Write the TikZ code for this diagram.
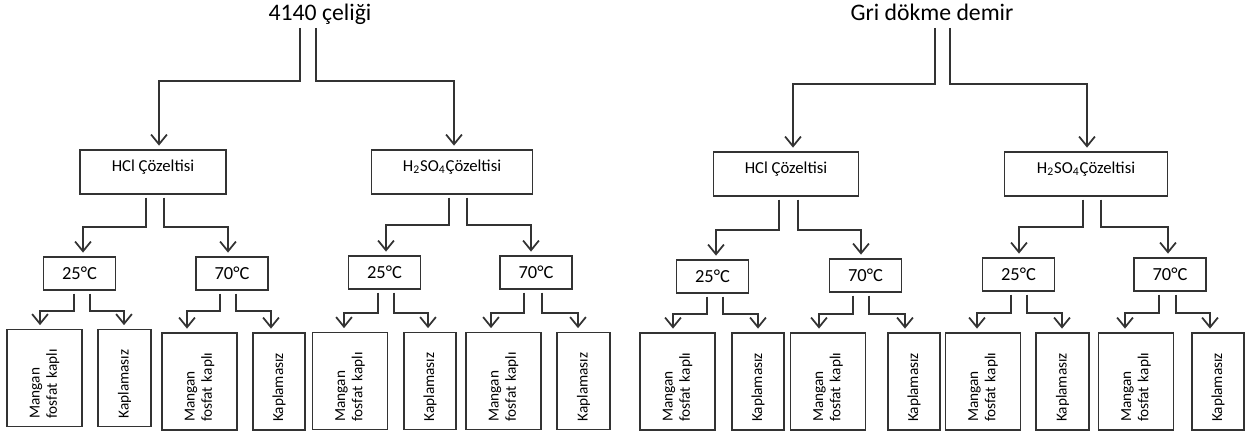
\documentclass[tikz,border=0pt]{standalone}
\usepackage{fontspec}
\setmainfont{Carlito}
\usepackage{tikz}
\usetikzlibrary{arrows.meta,calc,positioning}

\begin{document}
\begin{tikzpicture}
    [
      x=0.02cm, y=-0.02cm,
      title/.style={inner sep=0pt,text height=0.72em,text depth=0.25em,font=\fontsize{13.5}{16}\selectfont},
      sol/.style={rectangle,draw=black!80,line width=1pt,minimum height=0.88cm,text depth=7pt,font=\fontsize{9.5}{11}\selectfont},
      temp/.style={rectangle,draw=black!80,line width=1pt,minimum width=1.44cm,minimum height=0.66cm,font=\fontsize{10.5}{12}\selectfont},
      leaf/.style={rectangle,draw=black!80,line width=1pt,rotate=90,minimum width=1.94cm,minimum height=1.5cm,inner xsep=4.5pt,text width=1.62cm,align=left,font=\fontsize{8.7}{9.8}\selectfont},
      bare/.style={leaf,minimum height=1.05cm},
      post/.style={-{Straight Barb[length=5.5pt,width=9pt]},draw=black!80,line width=1pt,shorten >=2pt,shorten <=1.5pt},
      elbow/.style={to path={-- ++(0,#1) -| (\tikztotarget)}}
    ]
    \useasboundingbox (0,0) rectangle (1250,432);

    \node (celik) [title] at (320,16.4) {4140 çeliği};
    \node (demir) [title] at (932,16.4) {Gri dökme demir};

    \node (chcl) [sol, minimum width=2.92cm] at (153,172) {HCl Çözeltisi};
    \node (chso) [sol, minimum width=3.22cm] at (452,172) {H\textsubscript{2}SO\textsubscript{4}Çözeltisi};
    \node (dhcl) [sol, minimum width=2.9cm] at (786,174) {HCl Çözeltisi};
    \node (dhso) [sol, minimum width=3.26cm] at (1086,174) {H\textsubscript{2}SO\textsubscript{4}Çözeltisi};

    \node (chcl25) [temp] at (79.5,273.5) {25°C};
    \node (chcl70) [temp] at (232,273.5) {70°C};
    \node (chso25) [temp] at (384.5,272.5) {25°C};
    \node (chso70) [temp] at (536,272.5) {70°C};
    \node (dhcl25) [temp] at (712.5,276.5) {25°C};
    \node (dhcl70) [temp] at (865.5,275.5) {70°C};
    \node (dhso25) [temp] at (1018.5,274.5) {25°C};
    \node (dhso70) [temp] at (1170,274.5) {70°C};

    \node (chcl25m) [leaf] at (44.5,378) {Mangan\\fosfat kaplı};
    \node (chcl25k) [bare] at (124.5,378) {Kaplamasız};
    \node (chcl70m) [leaf] at (199.5,381.5) {Mangan\\fosfat kaplı};
    \node (chcl70k) [bare] at (279,381.5) {Kaplamasız};
    \node (chso25m) [leaf] at (350,381) {Mangan\\fosfat kaplı};
    \node (chso25k) [bare] at (430,381) {Kaplamasız};
    \node (chso70m) [leaf] at (503.5,381) {Mangan\\fosfat kaplı};
    \node (chso70k) [bare] at (583.5,381) {Kaplamasız};
    \node (dhcl25m) [leaf] at (677.5,381.5) {Mangan\\fosfat kaplı};
    \node (dhcl25k) [bare] at (758,381.5) {Kaplamasız};
    \node (dhcl70m) [leaf] at (828,381.5) {Mangan\\fosfat kaplı};
    \node (dhcl70k) [bare] at (914,381.5) {Kaplamasız};
    \node (dhso25m) [leaf] at (983,381.5) {Mangan\\fosfat kaplı};
    \node (dhso25k) [bare] at (1062.5,381.5) {Kaplamasız};
    \node (dhso70m) [leaf] at (1136,381.5) {Mangan\\fosfat kaplı};
    \node (dhso70k) [bare] at (1218,381.5) {Kaplamasız};

    \path
    ($(celik.south)+(-20,0)$) edge [post, elbow=56] ($(chcl.north)+(6,0)$)
    ($(celik.south)+(-4,0)$)  edge [post, elbow=56] ($(chso.north)+(2,0)$)
    ($(demir.south)+(3,0)$)   edge [post, elbow=59] ($(dhcl.north)+(7,0)$)
    ($(demir.south)+(18,0)$)  edge [post, elbow=59] ($(dhso.north)+(1,0)$)
    ($(chcl.south)+(-7,0)$)   edge [post, elbow=32] ($(chcl25.north)+(3.5,0)$)
    ($(chcl.south)+(11,0)$)   edge [post, elbow=32] ($(chcl70.north)+(-4,0)$)
    ($(chso.south)+(-3,0)$)   edge [post, elbow=30] ($(chso25.north)+(1.5,0)$)
    ($(chso.south)+(15,0)$)   edge [post, elbow=30] ($(chso70.north)+(-5,0)$)
    ($(dhcl.south)+(-7,0)$)   edge [post, elbow=33] ($(dhcl25.north)+(3.5,0)$)
    ($(dhcl.south)+(12,0)$)   edge [post, elbow=33] ($(dhcl70.north)+(-4.5,0)$)
    ($(dhso.south)+(-3,0)$)   edge [post, elbow=30] ($(dhso25.north)+(0.5,0)$)
    ($(dhso.south)+(15,0)$)   edge [post, elbow=30] ($(dhso70.north)+(-2,0)$)
    ($(chcl25.south)+(-5.5,0)$)  edge [post, elbow=20] ($(chcl25m.east)+(-4.5,0)$)
    ($(chcl25.south)+(10.5,0)$)  edge [post, elbow=20] ($(chcl25k.east)+(-0.5,0)$)
    ($(chcl70.south)+(-12,0)$)   edge [post, elbow=20] ($(chcl70m.east)+(-12.5,0)$)
    ($(chcl70.south)+(4,0)$)     edge [post, elbow=20] ($(chcl70k.east)+(-8,0)$)
    ($(chso25.south)+(-6.5,0)$)  edge [post, elbow=23] ($(chso25m.east)+(-6,0)$)
    ($(chso25.south)+(9.5,0)$)   edge [post, elbow=23] ($(chso25k.east)+(-2,0)$)
    ($(chso70.south)+(-12,0)$)   edge [post, elbow=23] ($(chso70m.east)+(-12.5,0)$)
    ($(chso70.south)+(6,0)$)     edge [post, elbow=23] ($(chso70k.east)+(-5.5,0)$)
    ($(dhcl25.south)+(-5.5,0)$)  edge [post, elbow=20] ($(dhcl25m.east)+(-4.5,0)$)
    ($(dhcl25.south)+(10.5,0)$)  edge [post, elbow=20] ($(dhcl25k.east)+(0,0)$)
    ($(dhcl70.south)+(-12.5,0)$) edge [post, elbow=21] ($(dhcl70m.east)+(-9,0)$)
    ($(dhcl70.south)+(3.5,0)$)   edge [post, elbow=21] ($(dhcl70k.east)+(-9,0)$)
    ($(dhso25.south)+(-7.5,0)$)  edge [post, elbow=21] ($(dhso25m.east)+(-6,0)$)
    ($(dhso25.south)+(8.5,0)$)   edge [post, elbow=21] ($(dhso25k.east)+(-0.5,0)$)
    ($(dhso70.south)+(-11,0)$)   edge [post, elbow=21] ($(dhso70m.east)+(-11,0)$)
    ($(dhso70.south)+(6,0)$)     edge [post, elbow=21] ($(dhso70k.east)+(-8,0)$)
    ;

\end{tikzpicture}
\end{document}
